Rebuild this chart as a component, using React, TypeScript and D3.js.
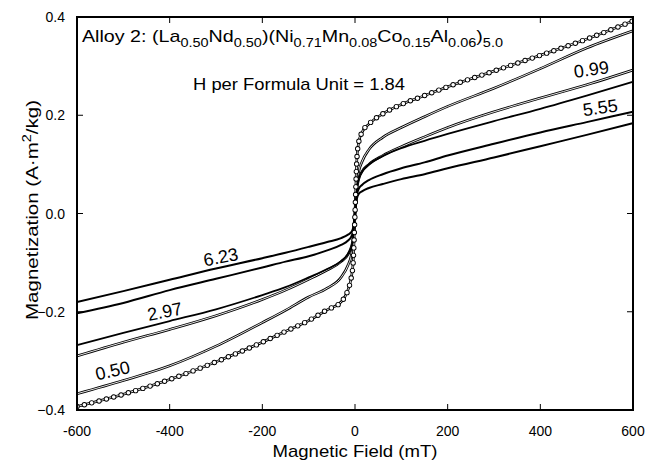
import React from "react";
import * as d3 from "d3";

// applied field (mT) at which each loop is read
const fieldGrid = [-600, -500, -400, -300, -200, -150, -100, -60, -30, -15, -8, -4, 0, 4, 8, 15, 30, 60, 100, 150, 200, 300, 400, 500, 600];

// magnetization (A·m²/kg), one list per hydrogen content
const m050 = [-0.367, -0.340, -0.310, -0.270, -0.222, -0.197, -0.170, -0.152, -0.130, -0.105, -0.085, -0.060, 0, 0.060, 0.085, 0.105, 0.130, 0.155, 0.175, 0.197, 0.218, 0.255, 0.295, 0.337, 0.372];
const m099 = [-0.290, -0.262, -0.236, -0.208, -0.175, -0.156, -0.134, -0.115, -0.098, -0.083, -0.068, -0.050, 0, 0.050, 0.070, 0.085, 0.100, 0.118, 0.136, 0.156, 0.175, 0.207, 0.235, 0.262, 0.292];
const m184 = [-0.393, -0.368, -0.338, -0.302, -0.262, -0.240, -0.218, -0.196, -0.180, -0.155, -0.130, -0.100, 0, 0.110, 0.145, 0.165, 0.182, 0.203, 0.222, 0.240, 0.258, 0.290, 0.322, 0.355, 0.392];
const m297 = [-0.268, -0.243, -0.219, -0.195, -0.166, -0.150, -0.130, -0.113, -0.097, -0.082, -0.068, -0.050, 0, 0.050, 0.070, 0.085, 0.100, 0.117, 0.133, 0.148, 0.162, 0.188, 0.213, 0.240, 0.268];
const m555 = [-0.203, -0.182, -0.156, -0.133, -0.110, -0.098, -0.087, -0.075, -0.064, -0.055, -0.047, -0.036, 0, 0.038, 0.050, 0.058, 0.068, 0.080, 0.092, 0.104, 0.118, 0.142, 0.165, 0.186, 0.207];
const m623 = [-0.180, -0.158, -0.135, -0.112, -0.091, -0.080, -0.068, -0.058, -0.050, -0.043, -0.038, -0.029, 0, 0.030, 0.040, 0.045, 0.052, 0.060, 0.070, 0.080, 0.092, 0.114, 0.137, 0.160, 0.184];

const xTicks = [-600, -400, -200, 0, 200, 400, 600];
const yTicks = [-0.4, -0.2, 0.0, 0.2, 0.4];

const font = "Liberation Sans, Arial, Helvetica, sans-serif";

export default function App() {
  const width = 648, height = 462;
  const left = 77, right = 633, top = 17, bottom = 410;

  const x = d3.scaleLinear().domain([-600, 600]).range([left, right]);
  const y = d3.scaleLinear().domain([-0.4, 0.4]).range([bottom, top]);

  const line = d3.line<[number, number]>()
    .x(d => x(d[0]))
    .y(d => y(d[1]))
    .curve(d3.curveMonotoneX);
  const path = (vals: number[]) => line(fieldGrid.map((h, i) => [h, vals[i]] as [number, number])) || "";

  // thin double-line loops
  const thin = [m050, m099, m184];
  // heavy loops
  const heavy = [m297, m555, m623];

  // curve labels: value, anchor field, magnetization (baseline), rotation
  const labels = [
    { t: "6.23", h: -287, m: -0.101, r: -11 },
    { t: "2.97", h: -408, m: -0.212, r: -11 },
    { t: "0.50", h: -520, m: -0.332, r: -13 },
    { t: "0.99", h: 512, m: 0.281, r: -8 },
    { t: "5.55", h: 531, m: 0.203, r: -8 },
  ];

  const fmtY = (v: number) => (v === 0 ? "0.0" : d3.format(".1f")(v));

  return (
    <svg width={width} height={height} style={{ position: "absolute", left: 0, top: 0, background: "#fff" }} fontFamily={font}>
      <defs>
        <clipPath id="plot">
          <rect x={left} y={top} width={right - left} height={bottom - top} />
        </clipPath>
      </defs>

      <g clipPath="url(#plot)" fill="none">
        {thin.map((v, i) => (
          <g key={"t" + i}>
            <path d={path(v)} stroke="#000" strokeWidth={2.6} />
            <path d={path(v)} stroke="#fff" strokeWidth={0.9} />
          </g>
        ))}
        {heavy.map((v, i) => (
          <path key={"h" + i} d={path(v)} stroke="#000" strokeWidth={i === 0 ? 1.8 : 2} />
        ))}
        {/* open circle markers along the 1.84 loop */}
        <path d={path(m184)} stroke="#000" strokeWidth={5.4} strokeDasharray="0 7.6" strokeLinecap="round" />
        <path d={path(m184)} stroke="#fff" strokeWidth={3.6} strokeDasharray="0 7.6" strokeLinecap="round" />
      </g>

      {/* frame */}
      <rect x={left} y={top} width={right - left} height={bottom - top} fill="none" stroke="#000" strokeWidth={2} />

      {/* ticks */}
      {xTicks.map(t => (
        <g key={"xt" + t}>
          <line x1={x(t)} x2={x(t)} y1={bottom} y2={bottom - 6} stroke="#000" strokeWidth={1} />
          <line x1={x(t)} x2={x(t)} y1={top} y2={top + 6} stroke="#000" strokeWidth={1} />
          <text x={x(t)} y={bottom + 26} textAnchor="middle" fontSize={14}>{t}</text>
        </g>
      ))}
      {yTicks.map(t => (
        <g key={"yt" + t}>
          <line x1={left} x2={left + 6} y1={y(t)} y2={y(t)} stroke="#000" strokeWidth={1} />
          <line x1={right} x2={right - 6} y1={y(t)} y2={y(t)} stroke="#000" strokeWidth={1} />
          <text x={left - 12} y={y(t) + 5} textAnchor="end" fontSize={14}>{fmtY(t)}</text>
        </g>
      ))}

      {/* curve labels */}
      {labels.map(l => (
        <text key={l.t} x={x(l.h)} y={y(l.m)} fontSize={18} textAnchor="middle"
          transform={`rotate(${l.r},${x(l.h)},${y(l.m)})`}>{l.t}</text>
      ))}

      {/* title */}
      <text x={82} y={42} fontSize={17} textLength={421} lengthAdjust="spacingAndGlyphs">
        <tspan>Alloy 2: (La</tspan>
        <tspan fontSize={12.5} dy={5}>0.50</tspan>
        <tspan dy={-5}>Nd</tspan>
        <tspan fontSize={12.5} dy={5}>0.50</tspan>
        <tspan dy={-5}>)(Ni</tspan>
        <tspan fontSize={12.5} dy={5}>0.71</tspan>
        <tspan dy={-5}>Mn</tspan>
        <tspan fontSize={12.5} dy={5}>0.08</tspan>
        <tspan dy={-5}>Co</tspan>
        <tspan fontSize={12.5} dy={5}>0.15</tspan>
        <tspan dy={-5}>Al</tspan>
        <tspan fontSize={12.5} dy={5}>0.06</tspan>
        <tspan dy={-5}>)</tspan>
        <tspan fontSize={12.5} dy={5}>5.0</tspan>
      </text>
      <text x={193} y={90} fontSize={17} textLength={212} lengthAdjust="spacingAndGlyphs">H per Formula Unit = 1.84</text>

      {/* axis titles */}
      <text x={(left + right) / 2} y={457} fontSize={17} textAnchor="middle" textLength={165} lengthAdjust="spacingAndGlyphs">Magnetic Field (mT)</text>
      <text transform="translate(38,210) rotate(-90)" fontSize={17} textAnchor="middle" textLength={220} lengthAdjust="spacingAndGlyphs">
        <tspan>Magnetization (A·m</tspan>
        <tspan fontSize={12} dy={-7}>2</tspan>
        <tspan dy={7}>/kg)</tspan>
      </text>
    </svg>
  );
}
